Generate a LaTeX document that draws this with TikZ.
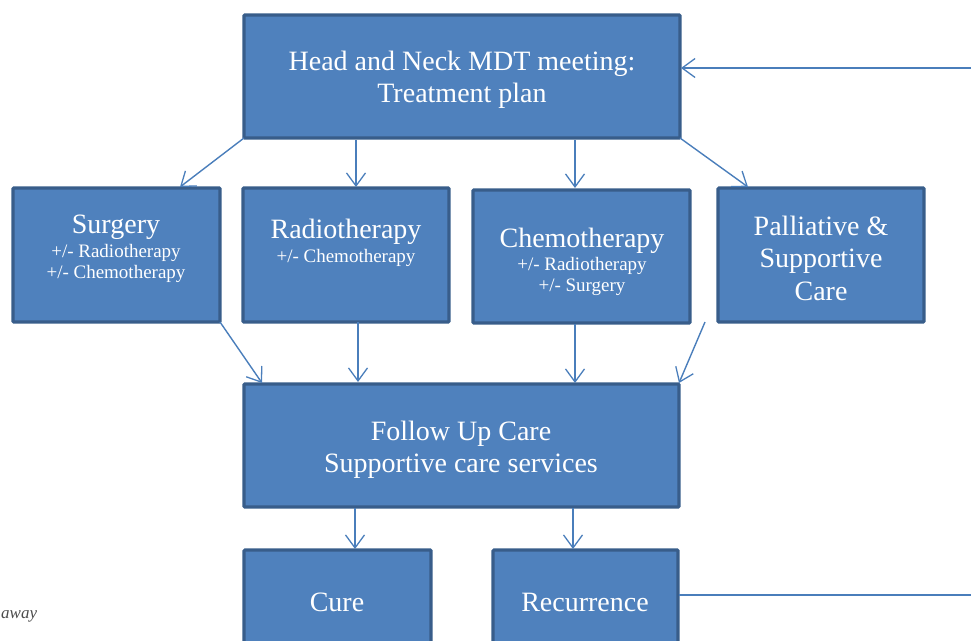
\documentclass[tikz,border=0pt]{standalone}
\usepackage{fontspec}
\setmainfont{Liberation Serif}
\usetikzlibrary{arrows.meta}
\definecolor{boxfill}{HTML}{4F81BD}
\definecolor{boxline}{HTML}{385D8A}
\definecolor{arrowc}{HTML}{4A7EBB}
\tikzset{
  box/.style={draw=boxline, line width=3.2pt, fill=boxfill, rounded corners=1pt, inner sep=0pt},
  conn/.style={draw=arrowc, line width=1.4pt, -{Straight Barb[length=13pt,width=19pt,line width=1.3pt]}},
  plain/.style={draw=arrowc, line width=1.4pt},
  big/.style={text=white, font=\fontsize{28}{32.5}\selectfont, align=center},
  small/.style={text=white, font=\fontsize{19}{21}\selectfont, align=center},
}
\begin{document}
\begin{tikzpicture}[x=1pt,y=-1pt]
\useasboundingbox (0,0) rectangle (971,640);
% boxes
\path[box] (244,15) rectangle (680,138);
\path[box] (13,188) rectangle (220,322);
\path[box] (243,188) rectangle (449,322);
\path[box] (473,190) rectangle (690,323);
\path[box] (718,188) rectangle (924,322);
\path[box] (244,384) rectangle (679,507);
\path[box] (244,550) rectangle (431,660);
\path[box] (493,550) rectangle (678,660);
% texts
\node[big] (tt) at (462,80) {Head and Neck MDT meeting:\\Treatment plan};
\node[big] (s1) at (116,227) {Surgery};
\node[small] (s2) at (116,263) {+/- Radiotherapy\\+/- Chemotherapy};
\node[big] (r1) at (346,232) {Radiotherapy};
\node[small] (r2) at (346,258) {+/- Chemotherapy};
\node[big] (c1) at (582,241) {Chemotherapy};
\node[small] (c2) at (582,276) {+/- Radiotherapy\\+/- Surgery};
\node[big] (p1) at (821,258) {Palliative \&\\Supportive\\Care};
\node[big] (f1) at (461,450) {Follow Up Care\\Supportive care services};
\node[big] (cu) at (337,602) {Cure};
\node[big] (re) at (585,602) {Recurrence};
\node[anchor=base west, text=black!70, font=\fontsize{17}{20}\selectfont\itshape, inner sep=0pt] (aw) at (1,618) {away};
% connectors
\coordinate (a1s) at (244,138); \coordinate (a1e) at (180,187);
\coordinate (a2s) at (356,140); \coordinate (a2e) at (356,187);
\coordinate (a3s) at (575,140); \coordinate (a3e) at (575,188);
\coordinate (a4s) at (680,138); \coordinate (a4e) at (748,187);
\coordinate (b1s) at (220,322); \coordinate (b1e) at (262,383);
\coordinate (b2s) at (358,322); \coordinate (b2e) at (358,382);
\coordinate (b3s) at (575,324); \coordinate (b3e) at (575,383);
\coordinate (b4s) at (705,322); \coordinate (b4e) at (679,383);
\coordinate (d1s) at (355,508); \coordinate (d1e) at (355,549);
\coordinate (d2s) at (573,508); \coordinate (d2e) at (573,549);
\coordinate (fbs) at (971,68); \coordinate (fbe) at (681,68);
\coordinate (rcs) at (679,595); \coordinate (rce) at (971,595);
\draw[conn] (a1s) -- (a1e);
\draw[conn] (a2s) -- (a2e);
\draw[conn] (a3s) -- (a3e);
\draw[conn] (a4s) -- (a4e);
\draw[conn] (b1s) -- (b1e);
\draw[conn] (b2s) -- (b2e);
\draw[conn] (b3s) -- (b3e);
\draw[conn] (b4s) -- (b4e);
\draw[conn] (d1s) -- (d1e);
\draw[conn] (d2s) -- (d2e);
\draw[conn] (fbs) -- (fbe);
\draw[plain] (rcs) -- (rce);
\end{tikzpicture}
\end{document}
